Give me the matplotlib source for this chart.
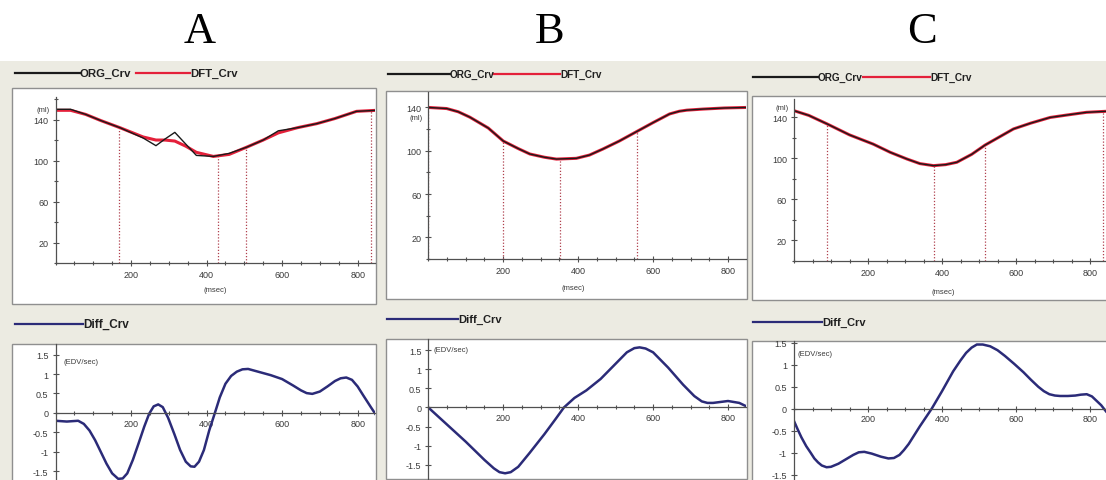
import matplotlib
matplotlib.use('Agg')
import matplotlib.pyplot as plt
from matplotlib.patches import Rectangle
from matplotlib.lines import Line2D
from matplotlib.ticker import MultipleLocator, FixedLocator

plt.rcParams['font.family'] = ['Liberation Sans', 'DejaVu Sans']
plt.rcParams['axes.unicode_minus'] = False

# ---- data ----
# panel A: volume curves (ml) vs time (msec)
a_t = [0, 40, 80, 120, 171, 232, 266, 290, 316, 345, 373, 418, 460, 506, 550, 590, 640, 692, 740, 797, 850]
a_org = [150, 150, 145, 139, 132, 122, 114.5, 121, 127.5, 116, 105, 104, 107, 113, 120, 129, 132, 136, 141, 148, 149]
a_dft = [149, 149, 145, 139, 132, 123, 120, 120, 119, 114, 108, 104, 106, 113, 120, 127, 132, 136, 141, 148, 149]
a_mark_t = [169, 431, 504, 836]
a_mark_v = [132, 104, 113, 149]
a_dt = [0, 30, 60, 75, 90, 105, 120, 135, 150, 166, 178, 190, 205, 220, 235, 248, 260, 272, 284, 298,
        315, 330, 345, 358, 368, 380, 393, 407, 422, 435, 450, 465, 480, 495, 510, 540, 570, 600, 630,
        650, 665, 680, 700, 720, 740, 755, 770, 785, 800, 815, 835, 850]
a_diff = [-0.20, -0.22, -0.20, -0.28, -0.45, -0.70, -1.0, -1.3, -1.55, -1.69, -1.68, -1.55, -1.2, -0.78,
          -0.35, -0.02, 0.17, 0.22, 0.15, -0.12, -0.55, -0.95, -1.25, -1.37, -1.38, -1.25, -0.95, -0.45,
          0.0, 0.4, 0.75, 0.95, 1.06, 1.12, 1.13, 1.05, 0.97, 0.87, 0.70, 0.58, 0.51, 0.49, 0.55, 0.68,
          0.82, 0.89, 0.91, 0.85, 0.68, 0.45, 0.15, -0.07]

# panel B
b_t = [0, 49, 80, 111, 160, 200, 240, 271, 310, 342, 395, 430, 466, 510, 555, 600, 644, 670, 690, 733, 790, 849]
b_org = [140, 139, 136, 131, 121, 109, 102, 97, 94, 92.3, 93, 96, 101.6, 109, 117.5, 126, 134, 136.5, 137.5,
         138.5, 139.5, 140]
b_dft = [140, 139, 136, 131, 121, 109, 102, 97, 94, 92.3, 93, 96, 101.6, 109, 117.5, 126, 134, 136.5, 137.5,
         138.5, 139.5, 140]
b_mark_t = [0, 200, 352, 556]
b_mark_v = [140, 109, 92, 118]
b_dt = [0, 50, 100, 150, 175, 190, 205, 220, 240, 270, 310, 340, 362, 390, 422, 460, 500, 530, 550, 564,
        580, 600, 640, 680, 710, 730, 745, 760, 800, 830, 849]
b_diff = [0.0, -0.45, -0.9, -1.38, -1.6, -1.7, -1.73, -1.70, -1.56, -1.2, -0.7, -0.3, 0.0, 0.25, 0.45, 0.75,
          1.15, 1.45, 1.56, 1.58, 1.55, 1.45, 1.05, 0.6, 0.3, 0.16, 0.12, 0.12, 0.17, 0.12, 0.03]

# panel C
c_t = [0, 40, 90, 150, 214, 260, 305, 340, 377, 410, 440, 480, 516, 555, 593, 640, 692, 740, 790, 843]
c_org = [146.6, 142, 133.6, 123, 114, 106, 99.5, 95, 93, 94, 96.3, 104, 113, 121, 128.8, 134.5, 140, 142.5, 145, 146]
c_dft = [146.6, 142, 133.6, 123, 114, 106, 99.5, 95, 93, 94, 96.3, 104, 113, 121, 128.8, 134.5, 140, 142.5, 145, 146]
c_mark_t = [90, 377, 516, 835]
c_mark_v = [133.6, 93, 113, 146]
c_dt = [0, 10, 20, 33, 45, 55, 65, 75, 88, 100, 120, 140, 160, 175, 190, 210, 235, 255, 270, 285, 297,
        310, 325, 340, 356, 372, 400, 430, 450, 465, 480, 494, 510, 530, 550, 570, 595, 620, 640, 660,
        675, 690, 705, 719, 740, 760, 775, 791, 805, 815, 830, 843]
c_diff = [-0.28, -0.47, -0.65, -0.85, -1.0, -1.13, -1.22, -1.29, -1.33, -1.32, -1.25, -1.15, -1.05, -0.99,
          -0.98, -1.02, -1.09, -1.13, -1.12, -1.05, -0.94, -0.8, -0.6, -0.4, -0.2, 0.0, 0.4, 0.85, 1.1,
          1.27, 1.39, 1.46, 1.46, 1.42, 1.33, 1.2, 1.02, 0.83, 0.66, 0.5, 0.40, 0.33, 0.30, 0.29, 0.29,
          0.30, 0.32, 0.33, 0.28, 0.2, 0.08, -0.06]

panel_names = ['A', 'B', 'C']
x_ticks = [200, 400, 600, 800]
vol_ticks = [20, 60, 100, 140]
diff_ticks = [-1.5, -1, -0.5, 0, 0.5, 1, 1.5]
diff_labels = ['-1.5', '-1', '-0.5', '0', '0.5', '1', '1.5']

# ---- layout (pixels) ----
W, H = 1106, 481
BG = '#ecebe2'
ORG_C = '#1a1a1a'
DFT_C = '#e4203a'
DIFF_C = '#2b2b78'
MARK_C = '#b0404e'
TXT = '#3a3a3a'

fig = plt.figure(figsize=(W / 100, H / 100), dpi=100)
fig.patch.set_facecolor('white')


def fx(x):
    return x / W


def fy(y):
    return 1 - y / H


def rect(x0, y0, x1, y1):
    return [fx(x0), fy(y1), (x1 - x0) / W, (y1 - y0) / H]


def frame(x0, y0, x1, y1):
    fig.add_artist(Rectangle((fx(x0), fy(y1)), (x1 - x0) / W, (y1 - y0) / H,
                             transform=fig.transFigure, fc='white', ec='#8f8f8f', lw=1.0, zorder=1))


def hline(x0, x1, y, color):
    fig.add_artist(Line2D([fx(x0), fx(x1)], [fy(y), fy(y)], transform=fig.transFigure,
                          color=color, lw=1.6, zorder=2))


def label(x, y, s, size, **kw):
    fig.text(fx(x), fy(y), s, fontsize=size, color=kw.pop('color', TXT), va='center', **kw)


# beige window background
fig.add_artist(Rectangle((0, 0), 1, fy(62), transform=fig.transFigure, fc=BG, ec='none', zorder=0))

# panel letters
for name, xc in zip(panel_names, [200, 550, 922]):
    fig.text(fx(xc), fy(43), name, fontsize=32, family='Liberation Serif', ha='center', va='baseline')

layout = [
    dict(tf=(12, 89, 376, 305), ta=(55.5, 98, 375, 264), xl=846, yl=162,
         bf=(12, 345, 376, 500), ba=(55.5, 345, 375, 481), dyl=(-1.72, 1.77),
         ly=74, lx=(15, 80, 136, 190), fs=8.2, dly=325, dlx=(15, 83), dfs=8.5,
         ml=(50, 111), ms=(215, 290), edv=(64, 362)),
    dict(tf=(386, 92, 747, 300), ta=(428.3, 93.3, 746, 260), xl=848, yl=154,
         bf=(386, 340, 747, 480), ba=(428.3, 340, 746, 480), dyl=(-1.88, 1.80),
         ly=75, lx=(388, 450, 493, 560), fs=7.2, dly=320, dlx=(387, 458), dfs=8,
         ml=(423, 118), ms=(573, 289), edv=(433, 351)),
    dict(tf=(752, 97, 1112, 301), ta=(794, 100, 1106, 262), xl=843, yl=158,
         bf=(752, 342, 1112, 500), ba=(794, 342, 1106, 481), dyl=(-1.62, 1.54),
         ly=78, lx=(753, 818, 863, 930), fs=7.2, dly=323, dlx=(753, 822), dfs=8,
         ml=(789, 109), ms=(943, 292), edv=(798, 354)),
]

series = [
    (a_t, a_org, a_dft, a_mark_t, a_mark_v, a_dt, a_diff),
    (b_t, b_org, b_dft, b_mark_t, b_mark_v, b_dt, b_diff),
    (c_t, c_org, c_dft, c_mark_t, c_mark_v, c_dt, c_diff),
]


def style_axes(ax):
    ax.set_facecolor('none')
    for s in ['top', 'right']:
        ax.spines[s].set_visible(False)
    for s in ['left', 'bottom']:
        ax.spines[s].set_color('#505050')
        ax.spines[s].set_linewidth(0.9)
    ax.tick_params(which='both', direction='inout', colors='#505050', labelcolor=TXT,
                   labelsize=6.5, width=0.8)
    ax.tick_params(which='major', length=4, pad=3)
    ax.tick_params(which='minor', length=3)


for lay, (t, org, dft, mt, mv, dt, diff) in zip(layout, series):
    # --- volume plot ---
    frame(*lay['tf'])
    ax = fig.add_axes(rect(*lay['ta']))
    ax.set_zorder(3)
    style_axes(ax)
    ax.vlines(mt, 0, mv, colors=MARK_C, linestyles=(0, (1, 1.5)), lw=0.9)
    ax.plot(t, dft, color=DFT_C, lw=2.2, solid_capstyle='butt')
    ax.plot(t, org, color=ORG_C, lw=1.0)
    ax.set_xlim(0, lay['xl'])
    ax.set_ylim(0, lay['yl'])
    ax.set_xticks(x_ticks)
    ax.xaxis.set_minor_locator(MultipleLocator(50))
    ax.set_yticks(vol_ticks)
    ax.yaxis.set_minor_locator(MultipleLocator(20))
    label(lay['ml'][0], lay['ml'][1], '(ml)', 5.5, ha='right')
    label(lay['ms'][0], lay['ms'][1], '(msec)', 5.5, ha='center')

    # legend strip
    lx = lay['lx']
    hline(lx[0], lx[1], lay['ly'], ORG_C)
    label(lx[1], lay['ly'], 'ORG_Crv', lay['fs'], ha='left', weight='bold', color='#202020')
    hline(lx[2], lx[3], lay['ly'], DFT_C)
    label(lx[3], lay['ly'], 'DFT_Crv', lay['fs'], ha='left', weight='bold', color='#202020')

    # --- derivative plot ---
    frame(*lay['bf'])
    bx = fig.add_axes(rect(*lay['ba']))
    bx.set_zorder(3)
    style_axes(bx)
    bx.spines['bottom'].set_position(('data', 0))
    bx.plot(dt, diff, color=DIFF_C, lw=1.8)
    bx.set_xlim(0, lay['xl'])
    bx.set_ylim(*lay['dyl'])
    bx.set_xticks(x_ticks)
    bx.xaxis.set_minor_locator(MultipleLocator(50))
    bx.yaxis.set_major_locator(FixedLocator(diff_ticks))
    bx.set_yticklabels(diff_labels)
    bx.tick_params(axis='x', pad=2)
    label(lay['edv'][0], lay['edv'][1], '(EDV/sec)', 5.5, ha='left')

    dlx = lay['dlx']
    hline(dlx[0], dlx[1], lay['dly'], DIFF_C)
    label(dlx[1], lay['dly'], 'Diff_Crv', lay['dfs'], ha='left', weight='bold', color='#202020')

fig.savefig('out.png', dpi=100, facecolor=fig.get_facecolor())
